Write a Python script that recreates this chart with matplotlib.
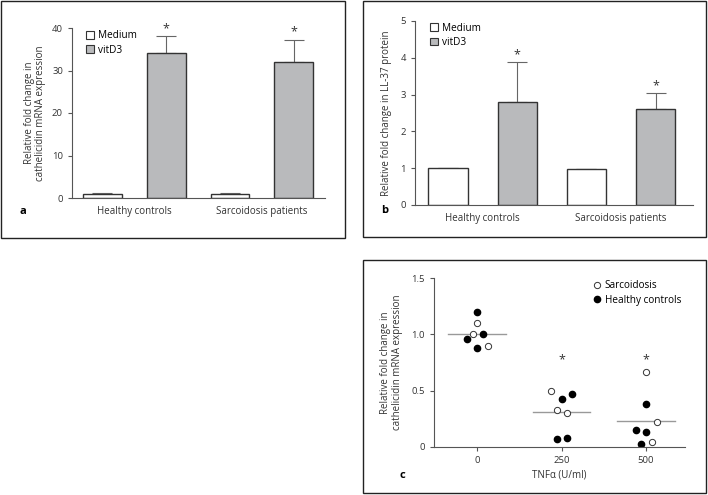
import numpy as np
import matplotlib.pyplot as plt
from matplotlib.patches import Patch, Rectangle
from matplotlib.lines import Line2D

plt.rcParams['font.family'] = ['Open Sans', 'DejaVu Sans']
plt.rcParams['font.size'] = 7

# panel a - cathelicidin mRNA
groups = ['Healthy controls', 'Sarcoidosis patients']
a_medium = [0.9, 0.9]
a_medium_err = [0.25, 0.2]
a_vitd3 = [34.2, 32.0]
a_vitd3_err = [3.9, 5.2]

# panel b - LL-37 protein
b_medium = [1.0, 0.97]
b_medium_err = [0.0, 0.02]
b_vitd3 = [2.8, 2.6]
b_vitd3_err = [1.08, 0.44]

# panel c - TNFa dose
doses = [0, 250, 500]
sarc_x = [0, -13, 32, 220, 236, 267, 500, 531, 516]
sarc_y = [1.1, 1.0, 0.9, 0.5, 0.33, 0.30, 0.67, 0.22, 0.04]
hc_x = [0, 17, -30, 0, 251, 282, 236, 267, 500, 469, 500, 486]
hc_y = [1.2, 1.0, 0.96, 0.88, 0.43, 0.47, 0.071, 0.077, 0.38, 0.15, 0.13, 0.03]
medians = [1.0, 0.31, 0.23]

W, H = 708, 495
fig = plt.figure(figsize=(W / 100, H / 100), dpi=100)


def px(l, t, r, b):
    return [l / W, 1 - b / H, (r - l) / W, (b - t) / H]


def box(l, t, r, b):
    fig.patches.append(Rectangle((l / W, 1 - b / H), (r - l) / W, (b - t) / H,
                                 transform=fig.transFigure, fill=False,
                                 ec='#222222', lw=1.0))


def style(ax):
    for s in ['top', 'right']:
        ax.spines[s].set_visible(False)
    for s in ['left', 'bottom']:
        ax.spines[s].set_color('#555555')
        ax.spines[s].set_linewidth(0.8)
    ax.tick_params(colors='#555555', labelcolor='#333333', length=3, width=0.8,
                   labelsize=6.8)


box(1, 1, 345, 238)
box(363, 1, 706, 237)
box(363, 260, 706, 493)

gray = '#b9babc'
edge = '#333333'
pos = np.arange(4)


def bars(ax, med, med_err, vit, vit_err, width):
    xm = pos[[0, 2]]
    xv = pos[[1, 3]]
    ax.bar(xm, med, width, color='white', edgecolor=edge, lw=1.0, zorder=2)
    ax.bar(xv, vit, width, color=gray, edgecolor=edge, lw=1.0, zorder=2)
    ax.errorbar(xm, med, yerr=[np.zeros(2), med_err], fmt='none', ecolor='#666666',
                elinewidth=0.8, capsize=7, capthick=0.8, zorder=1)
    ax.errorbar(xv, vit, yerr=[np.zeros(2), vit_err], fmt='none', ecolor='#666666',
                elinewidth=0.8, capsize=7, capthick=0.8, zorder=1)
    ax.set_xticks([0.5, 2.5])
    ax.set_xticklabels(groups, fontsize=7)
    ax.tick_params(axis='x', length=0, pad=6)
    leg = [Patch(fc='white', ec=edge, lw=0.8), Patch(fc=gray, ec=edge, lw=0.8)]
    ax.legend(leg, ['Medium', 'vitD3'], loc='upper left', bbox_to_anchor=(0.02, 1.04),
              frameon=False, handlelength=0.8, handleheight=0.8, handletextpad=0.4,
              labelspacing=0.35, fontsize=7.2)


# panel a
ax = fig.add_axes(px(72, 28, 325, 198))
style(ax)
bars(ax, a_medium, a_medium_err, a_vitd3, a_vitd3_err, 0.61)
ax.set_xlim(-0.477, 3.49)
ax.set_ylim(0, 40)
ax.set_yticks([0, 10, 20, 30, 40])
ax.set_ylabel('Relative fold change in\ncathelicidin mRNA expression', color='#333333',
              labelpad=4, linespacing=1.1)
for i, v in enumerate(a_vitd3):
    ax.text(pos[[1, 3]][i], v + a_vitd3_err[i] + 0.3, '*', ha='center', va='bottom',
            fontsize=9, color='#333333')
fig.text(20 / W, 1 - 211 / H, 'a', fontsize=8, fontweight='bold', va='center')

# panel b
ax = fig.add_axes(px(415, 21, 693, 205))
style(ax)
bars(ax, b_medium, b_medium_err, b_vitd3, b_vitd3_err, 0.57)
ax.set_xlim(-0.478, 3.54)
ax.set_ylim(0, 5)
ax.set_yticks([0, 1, 2, 3, 4, 5])
ax.set_ylabel('Relative fold change in LL-37 protein', color='#333333', labelpad=6)
for i, v in enumerate(b_vitd3):
    ax.text(pos[[1, 3]][i], v + b_vitd3_err[i] + 0.03, '*', ha='center', va='bottom',
            fontsize=9, color='#333333')
fig.text(381 / W, 1 - 210 / H, 'b', fontsize=8, fontweight='bold', va='center')

# panel c
ax = fig.add_axes(px(434, 278, 685, 447))
style(ax)
for d, m in zip(doses, medians):
    ax.plot([d - 85, d + 85], [m, m], color='#999999', lw=1.0, zorder=1)
ax.plot(hc_x, hc_y, 'o', ms=4.5, mfc='black', mec='black', zorder=2)
ax.plot(sarc_x, sarc_y, 'o', ms=4.5, mfc='white', mec='#333333', mew=0.7, zorder=3)
for d in doses[1:]:
    ax.text(d, 0.72, '*', ha='center', va='bottom', fontsize=9, color='#333333')
ax.set_xlim(-127, 615)
ax.set_ylim(0, 1.5)
ax.set_xticks(doses)
ax.set_yticks([0, 0.5, 1.0, 1.5])
ax.set_yticklabels(['0', '0.5', '1.0', '1.5'])
ax.set_xlabel('TNF\u03b1 (U/ml)', color='#333333', labelpad=3)
ax.set_ylabel('Relative fold change in\ncathelicidin mRNA expression', color='#333333',
              labelpad=6, linespacing=1.1)
leg = [Line2D([], [], ls='none', marker='o', ms=4.5, mfc='white', mec='#333333', mew=0.7),
       Line2D([], [], ls='none', marker='o', ms=4.5, mfc='black', mec='black')]
ax.legend(leg, ['Sarcoidosis', 'Healthy controls'], loc='upper right',
          bbox_to_anchor=(1.02, 1.04), frameon=False, handlelength=0.8,
          handletextpad=0.4, labelspacing=0.35, fontsize=7.2)
fig.text(400 / W, 1 - 475 / H, 'c', fontsize=8, fontweight='bold', va='center')

fig.savefig('out.png', dpi=100)
